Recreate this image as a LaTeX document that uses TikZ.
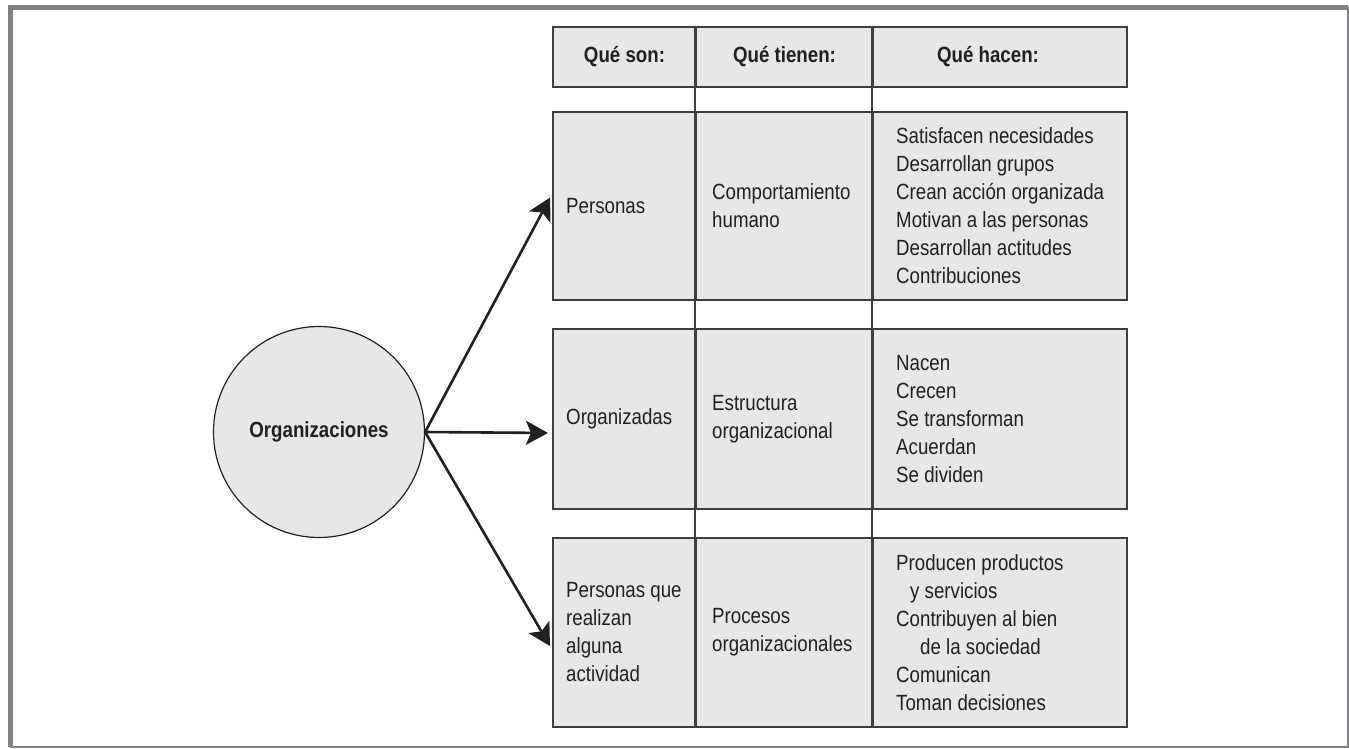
\documentclass[tikz,border=0pt]{standalone}
\usepackage{fontspec}
\setmainfont{Liberation Sans}[FakeStretch=0.85]
\usetikzlibrary{arrows.meta,positioning}

\definecolor{framegray}{RGB}{128,130,133}
\definecolor{rulegray}{RGB}{62,62,64}
\definecolor{cellgray}{RGB}{230,231,232}
\definecolor{inkblack}{RGB}{35,31,32}

\begin{document}
\begin{tikzpicture}[x=1pt,y=-1pt,
    cell/.style={draw=rulegray,line width=2pt,fill=cellgray,inner sep=0pt,anchor=north west},
    rule/.style={draw=rulegray,line width=2pt},
    body/.style={anchor=west,align=left,inner sep=0pt,text=inkblack,font=\fontsize{22}{28}\selectfont},
    head/.style={inner sep=0pt,text=inkblack,font=\fontsize{22}{28}\selectfont\bfseries},
    link/.style={draw=inkblack,line width=2.6pt,shorten >=4pt,-{Stealth[length=22pt,width=24pt,inset=5pt]}}]
  \useasboundingbox (0,0) rectangle (1349,748);
  % frame
  \draw[framegray,line width=2pt] (10.5,7.5) rectangle (1347.5,746.5);
  \draw[framegray,line width=5pt] (10.5,746.5) -- (10.5,7.5) -- (1347.5,7.5);

  % table cells, row 0 is the header
  \foreach \r/\top/\h in {0/26/60,1/111/188,2/328/180,3/537/189}
    \foreach \c/\left/\w in {1/552/143,2/695/177,3/872/254}
      \node[cell,minimum width=\w pt,minimum height=\h pt] (c\r\c) at (\left,\top) {};
  \foreach \c in {2,3}
    \draw[rule] (c0\c.north west) -- (c3\c.south west);

  \node[head] (h1) at (c01) {Qué son:};
  \node[head] (h2) at (c02) {Qué tienen:};
  \node[head,xshift=-12] (h3) at (c03) {Qué hacen:};

  \foreach \r/\a/\b/\cc in {
      1/{Personas}/{Comportamiento\\humano}/{Satisfacen necesidades\\Desarrollan grupos\\Crean acción organizada\\Motivan a las personas\\Desarrollan actitudes\\Contribuciones},
      2/{Organizadas}/{Estructura\\organizacional}/{Nacen\\Crecen\\Se transforman\\Acuerdan\\Se dividen},
      3/{Personas que\\realizan\\alguna\\actividad}/{Procesos\\organizacionales}/{Producen productos\\\hspace*{14pt}y servicios\\Contribuyen al bien\\\hspace*{24pt}de la sociedad\\Comunican\\Toman decisiones}} {
    \node[body] (t\r1) at ([xshift=14]c\r1.west) {\a};
    \node[body] (t\r2) at ([xshift=17]c\r2.west) {\b};
    \node[body] (t\r3) at ([xshift=24]c\r3.west) {\cc};
  }

  \node[circle,draw=inkblack,line width=1.2pt,fill=cellgray,minimum size=211pt,inner sep=0pt,
    text=inkblack,font=\fontsize{22}{28}\selectfont\bfseries] (org) at (319,432) {Organizaciones};

  % arrow ends sit a little off the cell centres
  \foreach \r/\dy in {1/12,2/-14,3/-17}
    \draw[link] (org.east) -- ([yshift=\dy]c\r1.west);
\end{tikzpicture}
\end{document}
